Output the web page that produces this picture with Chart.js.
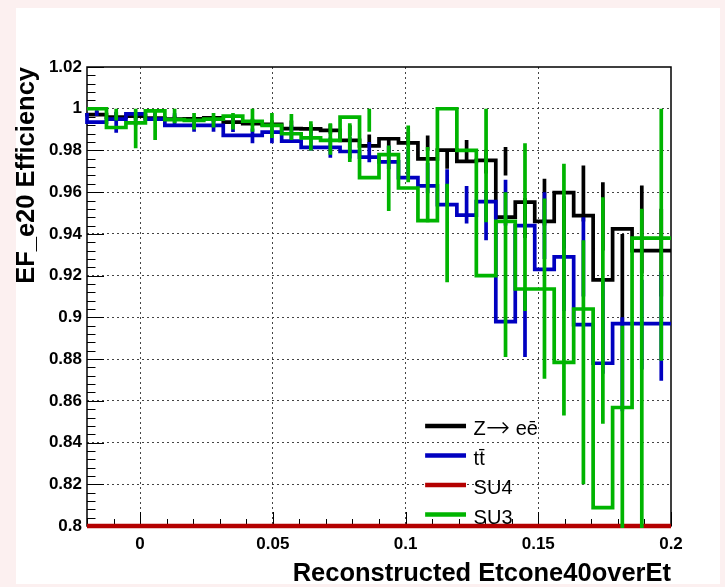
<!DOCTYPE html>
<html><head><meta charset="utf-8">
<script src="https://cdn.jsdelivr.net/npm/chart.js@4.4.1/dist/chart.umd.min.js"></script>
<style>
html,body{margin:0;padding:0;background:#fcf0f0;width:725px;height:587px;overflow:hidden;}
#panel{position:absolute;left:16px;top:8px;width:704px;height:576px;background:#fff;}
#wrap{position:absolute;left:0;top:0;width:725px;height:587px;}
</style></head><body>
<div id="panel"></div>
<div id="wrap"><canvas id="c" width="725" height="587"></canvas></div>
<script>
// ---- axis ranges / binning ----
const xMin = -0.02, xMax = 0.2, nBins = 30;
const yMin = 0.8, yMax = 1.02;
const xTickValues = [0, 0.05, 0.1, 0.15, 0.2];
const yTickValues = [0.8, 0.82, 0.84, 0.86, 0.88, 0.9, 0.92, 0.94, 0.96, 0.98, 1.0, 1.02];
const seriesNames = ['Z\u2192 ee\u0304', 'tt\u0304', 'SU4', 'SU3'];
const seriesColors = ['#000000', '#0000c0', '#b40000', '#00b400'];
const xTitle = 'Reconstructed Etcone40overEt';
const yTitle = 'EF_e20 Efficiency';

// ---- Z -> ee ----
const zeeValues = [0.998,0.9972,0.996,0.9965,0.9955,0.995,0.9952,0.9956,0.9936,0.9928,0.9925,0.9905,0.9903,0.9896,0.9848,0.9822,0.9856,0.9836,0.976,0.9802,0.9748,0.9752,0.948,0.9552,0.946,0.9598,0.9488,0.918,0.9424,0.932];
const zeeLow    = [0.9968,0.996,0.9948,0.9953,0.9942,0.9937,0.9938,0.9941,0.992,0.991,0.9906,0.9884,0.988,0.987,0.9818,0.9789,0.9822,0.9798,0.9712,0.9752,0.969,0.968,0.938,0.944,0.933,0.946,0.932,0.896,0.921,0.91];
const zeeHigh   = [0.999,0.9983,0.9972,0.9976,0.9967,0.9963,0.9965,0.997,0.9952,0.9945,0.9944,0.9926,0.9926,0.9921,0.9877,0.9854,0.9889,0.9872,0.9806,0.985,0.9803,0.9816,0.9572,0.9664,0.958,0.9728,0.9648,0.94,0.9632,0.952];

// ---- ttbar ----
const ttValues = [0.998,0.9936,0.995,0.9975,0.995,0.992,0.992,0.992,0.9872,0.9872,0.9888,0.9845,0.9815,0.9815,0.9795,0.9768,0.9745,0.967,0.963,0.954,0.949,0.9555,0.898,0.944,0.923,0.929,0.8965,0.878,0.897,0.897];
const ttLow    = [0.9965,0.9885,0.992,0.9955,0.992,0.989,0.989,0.9888,0.9835,0.9835,0.985,0.98,0.9765,0.9762,0.9744,0.971,0.968,0.9595,0.9545,0.945,0.937,0.944,0.881,0.928,0.903,0.91,0.873,0.855,0.875,0.8696];
const ttHigh   = [0.9993,0.9985,0.9978,0.9993,0.9978,0.995,0.995,0.995,0.9905,0.9907,0.9922,0.9887,0.9862,0.9865,0.984,0.9822,0.9805,0.974,0.971,0.963,0.961,0.966,0.913,0.96,0.942,0.948,0.918,0.9,0.918,0.922];

// ---- SU4 ----
const su4Values = [0.8,0.8,0.8,0.8,0.8,0.8,0.8,0.8,0.8,0.8,0.8,0.8,0.8,0.8,0.8,0.8,0.8,0.8,0.8,0.8,0.8,0.8,0.8,0.8,0.8,0.8,0.8,0.8,0.8,0.8];

// ---- SU3 ----
const su3Values = [1.0,1.0,0.991,0.9932,0.999,0.9948,0.9944,0.995,0.9965,0.994,0.992,0.988,0.986,0.9848,0.996,0.967,0.978,0.962,0.9464,1.0,0.98,0.92,0.946,0.9136,0.9136,0.8784,0.904,0.8088,0.8568,0.938];
const su3Low    = [1.0,0.9944,0.981,0.985,0.993,0.99,0.991,0.99,0.989,0.986,0.985,0.98,0.978,0.9745,0.989,0.951,0.9648,0.9456,0.9168,1.0,0.9456,0.881,0.903,0.8706,0.853,0.82,0.849,0.76,0.76,0.8792];
const su3High   = [1.0,1.0,1.0,0.999,1.0,0.998,0.998,0.998,1.0,0.998,0.9975,0.994,0.993,0.993,1.0,0.9824,0.992,0.9816,0.964,1.0,1.0,0.96,0.9835,0.957,0.9736,0.937,0.9576,0.896,0.952,1.0];

// ---- helpers building library data ----
const edges = [];
for (let i = 0; i <= nBins; i++) edges.push(xMin + (xMax - xMin) * i / nBins);
function stepData(vals) {
  const d = vals.map((y, i) => ({x: edges[i], y}));
  d.push({x: edges[nBins], y: vals[nBins - 1]});
  return d;
}
function errData(lo, hi) {
  const d = [];
  for (let i = 0; i < nBins; i++) {
    if (hi[i] - lo[i] < 1e-9) continue;
    const c = (edges[i] + edges[i + 1]) / 2;
    d.push({x: c, y: lo[i]}, {x: c, y: hi[i]}, {x: c, y: null});
  }
  return d;
}
const fmt = v => String(parseFloat(Number(v).toFixed(3)));
const FONT = "'Liberation Sans', Arial, Helvetica, sans-serif";
const LW = 3.7;

function lineDs(label, data, color, order, stepped, width, clip) {
  return {label, data, borderColor: color, backgroundColor: color, borderWidth: width || LW,
    pointRadius: 0, stepped: stepped ? 'after' : false, spanGaps: false, order, fill: false,
    borderCapStyle: 'butt', borderJoinStyle: 'miter', tension: 0, clip: clip === undefined ? 2 : clip};
}

const datasets = [
  lineDs(seriesNames[0], stepData(zeeValues), seriesColors[0], 8, true),
  lineDs(seriesNames[0] + ' err', errData(zeeLow, zeeHigh), seriesColors[0], 7, false),
  lineDs(seriesNames[1], stepData(ttValues), seriesColors[1], 6, true),
  lineDs(seriesNames[1] + ' err', errData(ttLow, ttHigh), seriesColors[1], 5, false),
  lineDs(seriesNames[2], stepData(su4Values), seriesColors[2], 4, true, 4.5, 4),
  lineDs(seriesNames[3], stepData(su3Values), seriesColors[3], 2, true),
  lineDs(seriesNames[3] + ' err', errData(su3Low, su3High), seriesColors[3], 1, false),
];

const frameTicks = {
  id: 'frameTicks',
  beforeDatasetsDraw(chart) {
    const {ctx, chartArea: a, scales: {x, y}} = chart;
    ctx.save();
    ctx.strokeStyle = '#000';
    ctx.lineWidth = 1;
    ctx.beginPath();
    const yMinorStep = 0.004;
    const nY = Math.round((yMax - yMin) / yMinorStep);
    for (let k = 0; k <= nY; k++) {
      const py = Math.round(y.getPixelForValue(yMin + k * yMinorStep)) + 0.5;
      const len = (k % 5 === 0) ? 17 : 8.5;
      ctx.moveTo(a.left, py); ctx.lineTo(a.left + len, py);
    }
    const xMinorStep = 0.01;
    const nX = Math.round((xMax - xMin) / xMinorStep);
    for (let k = 0; k <= nX; k++) {
      const v = xMin + k * xMinorStep;
      const px = Math.round(x.getPixelForValue(v)) + 0.5;
      const isMajor = Math.abs(v / 0.05 - Math.round(v / 0.05)) < 1e-6;
      const len = isMajor ? 14 : 7;
      ctx.moveTo(px, a.bottom); ctx.lineTo(px, a.bottom - len);
    }
    ctx.stroke();
    ctx.lineWidth = 1.5;
    ctx.strokeRect(a.left, a.top, a.right - a.left, a.bottom - a.top);
    ctx.restore();
  }
};

// legend label pieces (the arrow is set larger so it is full width)
const legendPieces = [
  [{t: 'Z', f: "20px " + FONT}, {t: '\u2192', f: "200 29px 'DejaVu Sans ExtraLight', 'DejaVu Sans'"}, {t: ' ee\u0304', f: "20px " + FONT}],
  [{t: 'tt\u0304', f: "20px " + FONT}],
  [{t: 'SU4', f: "20px " + FONT}],
  [{t: 'SU3', f: "20px " + FONT}]
];

const legendBox = {
  id: 'legendBox',
  afterDatasetsDraw(chart) {
    const {ctx, chartArea: a} = chart;
    const w = a.right - a.left, h = a.bottom - a.top;
    const sx0 = a.left + 0.579 * w, sx1 = a.left + 0.649 * w, tx = a.left + 0.662 * w;
    const ry0 = a.top + 0.782 * h, dy = 0.0643 * h;
    ctx.save();
    ctx.textBaseline = 'middle';
    ctx.textAlign = 'left';
    for (let i = 0; i < legendPieces.length; i++) {
      const ry = ry0 + i * dy;
      ctx.strokeStyle = seriesColors[i];
      ctx.lineWidth = 4.5;
      ctx.beginPath(); ctx.moveTo(sx0, ry); ctx.lineTo(sx1, ry); ctx.stroke();
      ctx.fillStyle = '#000';
      let cx = tx;
      for (const p of legendPieces[i]) {
        ctx.font = p.f;
        ctx.fillText(p.t, cx, ry + 4);
        cx += ctx.measureText(p.t).width;
      }
    }
    ctx.restore();
  }
};

const gridColor = (lo, hi) => ctx => {
  const v = ctx.tick ? ctx.tick.value : null;
  if (v === null || Math.abs(v - lo) < 1e-9 || Math.abs(v - hi) < 1e-9) return 'rgba(0,0,0,0)';
  return '#444';
};

new Chart(document.getElementById('c'), {
  type: 'line',
  data: {datasets},
  options: {
    responsive: false, animation: false, events: [],
    layout: {padding: {left: 0, right: 54, top: 67, bottom: 0}},
    plugins: {legend: {display: false}, tooltip: {enabled: false}, title: {display: false}},
    scales: {
      x: {
        type: 'linear', min: xMin, max: xMax,
        afterBuildTicks: s => { s.ticks = xTickValues.map(v => ({value: v})); },
        afterFit: s => { s.height = 61; },
        grid: {drawTicks: false, color: gridColor(xMin, xMax), lineWidth: 1},
        border: {display: false, dash: [2, 3]},
        ticks: {autoSkip: false, maxRotation: 0, padding: 8, color: '#000',
          font: {family: FONT, size: 17, weight: 'bold'}, callback: v => fmt(v)},
        title: {display: true, text: xTitle, align: 'end', color: '#000',
          font: {family: FONT, size: 25.5, weight: 'bold', lineHeight: 1}, padding: {top: 0, bottom: 0}}
      },
      y: {
        type: 'linear', min: yMin, max: yMax,
        afterBuildTicks: s => { s.ticks = yTickValues.map(v => ({value: v})); },
        afterFit: s => { s.width = 87; },
        grid: {drawTicks: false, color: gridColor(yMin, yMax), lineWidth: 1},
        border: {display: false, dash: [2, 3]},
        ticks: {autoSkip: false, padding: 5, color: '#000',
          font: {family: FONT, size: 17, weight: 'bold'}, callback: v => fmt(v)},
        title: {display: true, text: yTitle, align: 'end', color: '#000',
          font: {family: FONT, size: 25.5, weight: 'bold', lineHeight: 1}, padding: {top: 14, bottom: 0}}
      }
    }
  },
  plugins: [frameTicks, legendBox]
});
</script>
</body></html>
